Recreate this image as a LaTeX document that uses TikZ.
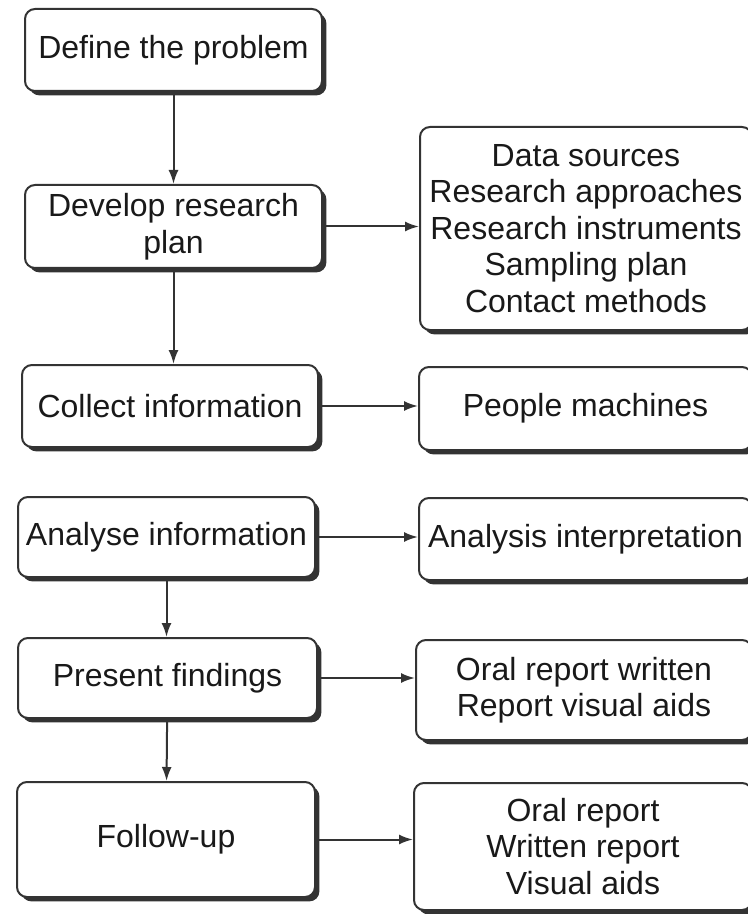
\documentclass[tikz,border=0pt]{standalone}
\usepackage{fontspec}
\setmainfont{Liberation Sans}
\usepackage{tikz}
\usetikzlibrary{arrows.meta}
\usetikzlibrary{shadows}
\tikzstyle{stage}=[rectangle, draw=black!80, line width=1pt, rounded corners=5pt, fill=white, inner sep=0pt, align=center, text=black!90, font=\fontsize{16}{18.25}\selectfont, drop shadow={shadow xshift=2.2pt, shadow yshift=-2.2pt, fill=black!80, opacity=1}]
\tikzstyle{flow}=[-{Latex[length=7pt,width=5pt]}, line width=1pt, black!80]
\tikzset{every picture/.style={
    x=0.5pt, y=-0.5pt
  }
}

\begin{document}
\begin{tikzpicture}
        \useasboundingbox (0,0) rectangle (748,914);
        \node[stage, minimum width=148.5pt, minimum height=41pt] at (173.5,50) (define) {Define the problem};
        \node[stage, minimum width=148.5pt, minimum height=41.5pt] at (173.5,226.5) (develop) {Develop research\\plan};
        \node[stage, minimum width=148pt, minimum height=41pt] at (170,406) (collect) {Collect information};
        \node[stage, minimum width=148.5pt, minimum height=40pt] at (166.5,537) (analyse) {Analyse information};
        \node[stage, minimum width=149.5pt, minimum height=40pt] at (167.5,678) (present) {Present findings};
        \node[stage, minimum width=149pt, minimum height=57.5pt] at (166,839.5) (followup) {Follow-up};
        \node[stage, minimum width=166pt, minimum height=101.5pt] at (586,228.5) (sources) {Data sources\\Research approaches\\Research instruments\\Sampling plan\\Contact methods};
        \node[stage, minimum width=166.5pt, minimum height=41.5pt] at (585.5,408.5) (people) {People machines};
        \node[stage, minimum width=166.5pt, minimum height=41pt] at (585.5,539) (analysis) {Analysis interpretation};
        \node[stage, minimum width=168pt, minimum height=50pt] at (584,690) (report) {Oral report written\\Report visual aids};
        \node[stage, minimum width=169pt, minimum height=63.5pt] at (583,846.5) (reports) {Oral report\\Written report\\Visual aids};
        \draw[flow] (define) -- (develop);
        \draw[flow] (develop.south) -- (develop.south |- collect.north);
        \draw[flow] (analyse.south) -- (analyse.south |- present.north);
        \draw[flow] (present) -- (followup);
        \draw[flow] (develop.east) -- (develop.east -| sources.west);
        \draw[flow] (collect.east) -- (collect.east -| people.west);
        \draw[flow] (analyse.east) -- (analyse.east -| analysis.west);
        \draw[flow] (present.east) -- (present.east -| report.west);
        \draw[flow] (followup.east) -- (followup.east -| reports.west);
      \end{tikzpicture}
\end{document}
